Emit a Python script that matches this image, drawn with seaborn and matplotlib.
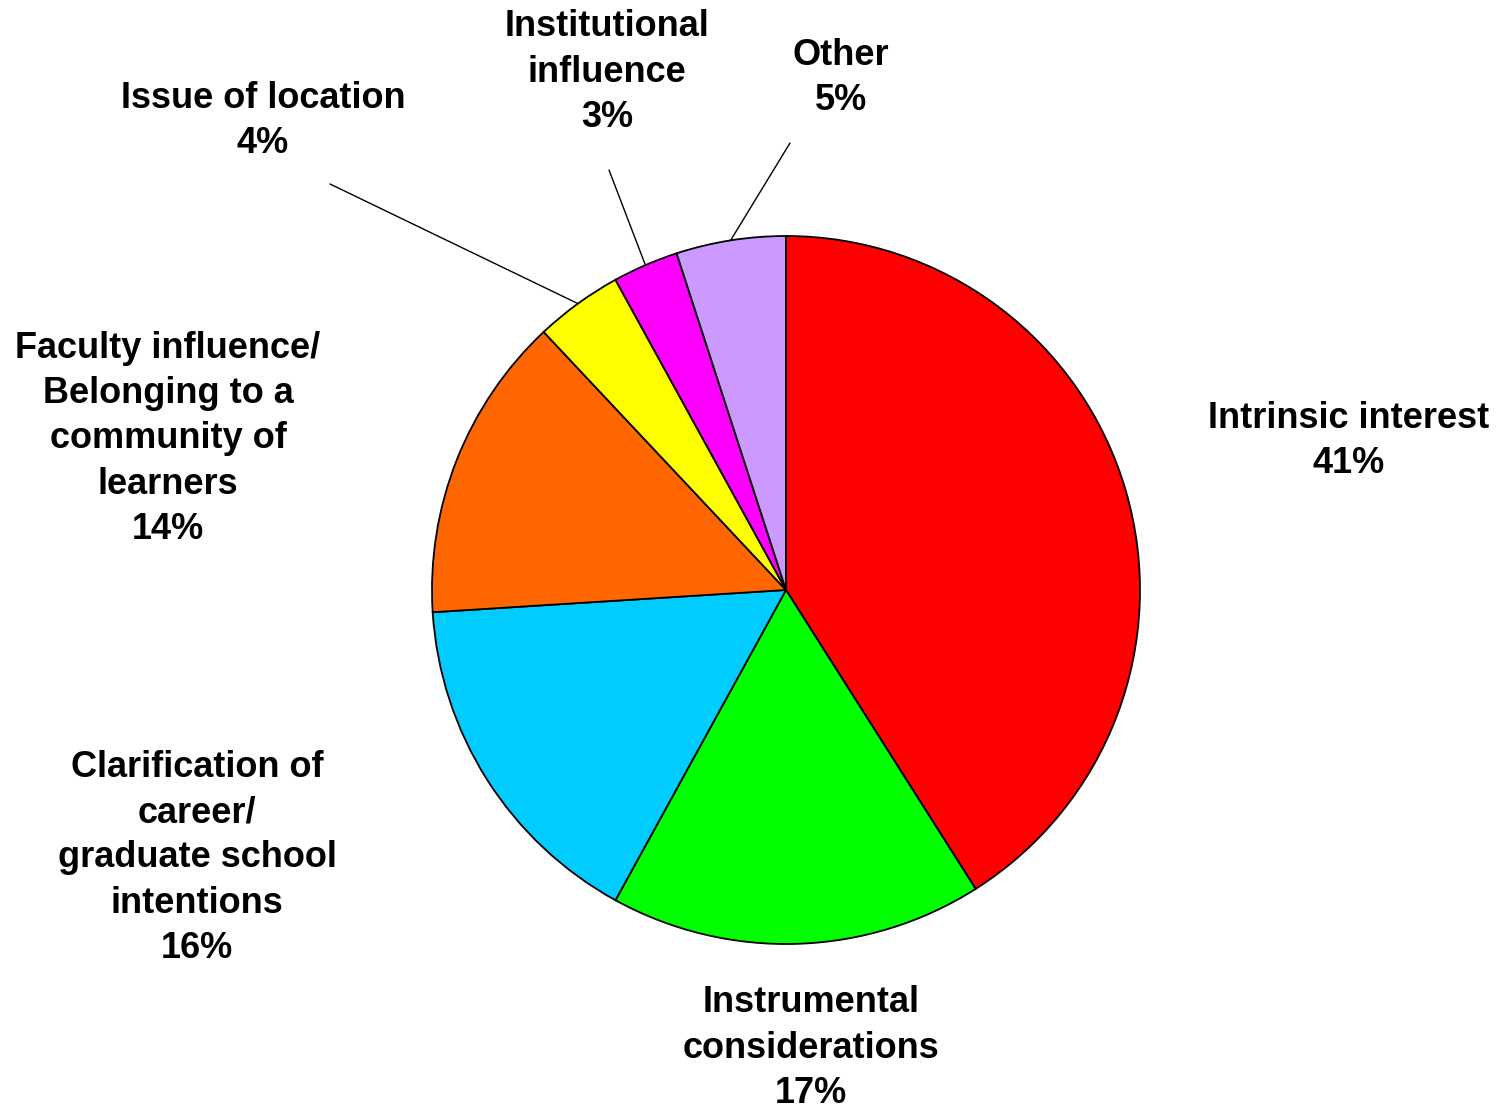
import numpy as np
import matplotlib
matplotlib.use("Agg")
import matplotlib.pyplot as plt
import seaborn as sns

# ---- data ----
categories = [
    "Intrinsic interest",
    "Instrumental\nconsiderations",
    "Clarification of\ncareer/\ngraduate school\nintentions",
    "Faculty influence/\nBelonging to a\ncommunity of\nlearners",
    "Issue of location",
    "Institutional\ninfluence",
    "Other",
]
shares = [41, 17, 16, 14, 4, 3, 5]
colors = ["#FF0000", "#00FF00", "#00CCFF", "#FF6600", "#FFFF00", "#FF00FF", "#CC99FF"]

# ---- layout (pixel positions of label centres in the 1505x1111 canvas) ----
W, H = 1505, 1111
CX, CY, R = 786, 590, 354
label_px = [(1349, 441), (811, 1048), (197, 858), (168, 439), (263, 121), (607, 72), (841, 78)]
leader_end_px = {4: (330, 184), 5: (609, 170), 6: (790, 143)}


def px(x, y):
    return ((x - CX) / R, (CY - y) / R)


sns.set_style("white")
plt.rcParams["font.family"] = ["Liberation Sans", "DejaVu Sans"]

fig = plt.figure(figsize=(W / 100, H / 100), dpi=100)
ax = fig.add_axes([0, 0, 1, 1])

wedges, _ = ax.pie(
    shares,
    colors=colors,
    startangle=90,
    counterclock=False,
    radius=1.0,
    wedgeprops=dict(edgecolor="black", linewidth=1.3),
)

for i, (name, val) in enumerate(zip(categories, shares)):
    lx, ly = px(*label_px[i])
    ax.text(lx, ly, f"{name}\n{val}%", ha="center", va="center",
            fontsize=26, fontweight="bold", linespacing=1.38, color="black")

for i, end in leader_end_px.items():
    w = wedges[i]
    mid = np.deg2rad((w.theta1 + w.theta2) / 2)
    x0, y0 = np.cos(mid), np.sin(mid)
    x1, y1 = px(*end)
    ax.plot([x0, x1], [y0, y1], color="black", linewidth=1.0)

ax.set_xlim(-CX / R, (W - CX) / R)
ax.set_ylim(-(H - CY) / R, CY / R)
ax.set_aspect("equal")
ax.axis("off")

fig.savefig("out.png", dpi=100, facecolor="white")
